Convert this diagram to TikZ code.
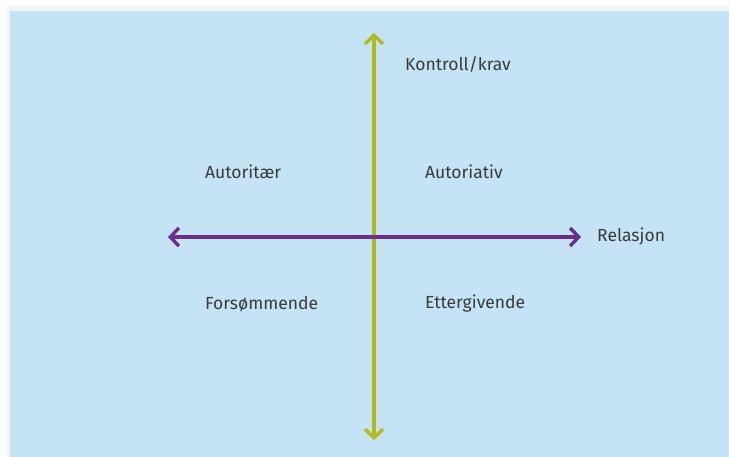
\documentclass[tikz,border=0pt]{standalone}
\usepackage{fontspec}
\setmainfont{Fira Sans}
\usetikzlibrary{arrows.meta}
\definecolor{bgblue}{HTML}{C4E3F4}
\definecolor{edgegrey}{HTML}{F2F5F5}
\definecolor{axisolive}{HTML}{B4BA1C}
\definecolor{axispurple}{HTML}{6A2C8E}
\definecolor{txtgrey}{HTML}{3A3A3C}
\tikzset{
  axis/.style={line width=3.6pt},
  lbl/.style={anchor=west, inner sep=0pt, text=txtgrey, font=\fontsize{17.5}{20}\selectfont}
}
\begin{document}
\begin{tikzpicture}[x=1pt,y=-1pt]
\useasboundingbox (0,0) rectangle (729,457);
\fill[white] (0,0) rectangle (729,457);
\fill[edgegrey] (7,6) rectangle (729,457);
\fill[bgblue] (10,11) rectangle (729,457);
\coordinate (top) at (374,33);
\coordinate (bot) at (374,440);
\coordinate (lft) at (168,237);
\coordinate (rgt) at (581,237);
\draw[axis, axisolive, {Straight Barb[length=8.5pt,width=18pt,line width=3.4pt]}-{Straight Barb[length=8.5pt,width=18pt,line width=3.4pt]}] (top) -- (bot);
\draw[axis, axispurple, {Straight Barb[length=8.5pt,width=18pt,line width=3.4pt]}-{Straight Barb[length=8.5pt,width=18pt,line width=3.4pt]}] (lft) -- (rgt);
\node[lbl] (kontroll) at (405,64) {Kontroll/krav};
\node[lbl] (relasjon) at (597,237) {Relasjon};
\node[lbl] (autoritaer) at (205,172) {Autoritær};
\node[lbl] (autoriativ) at (425,172) {Autoriativ};
\node[lbl] (forsommende) at (205,304) {Forsømmende};
\node[lbl] (ettergivende) at (425,304) {Ettergivende};
\end{tikzpicture}
\end{document}
